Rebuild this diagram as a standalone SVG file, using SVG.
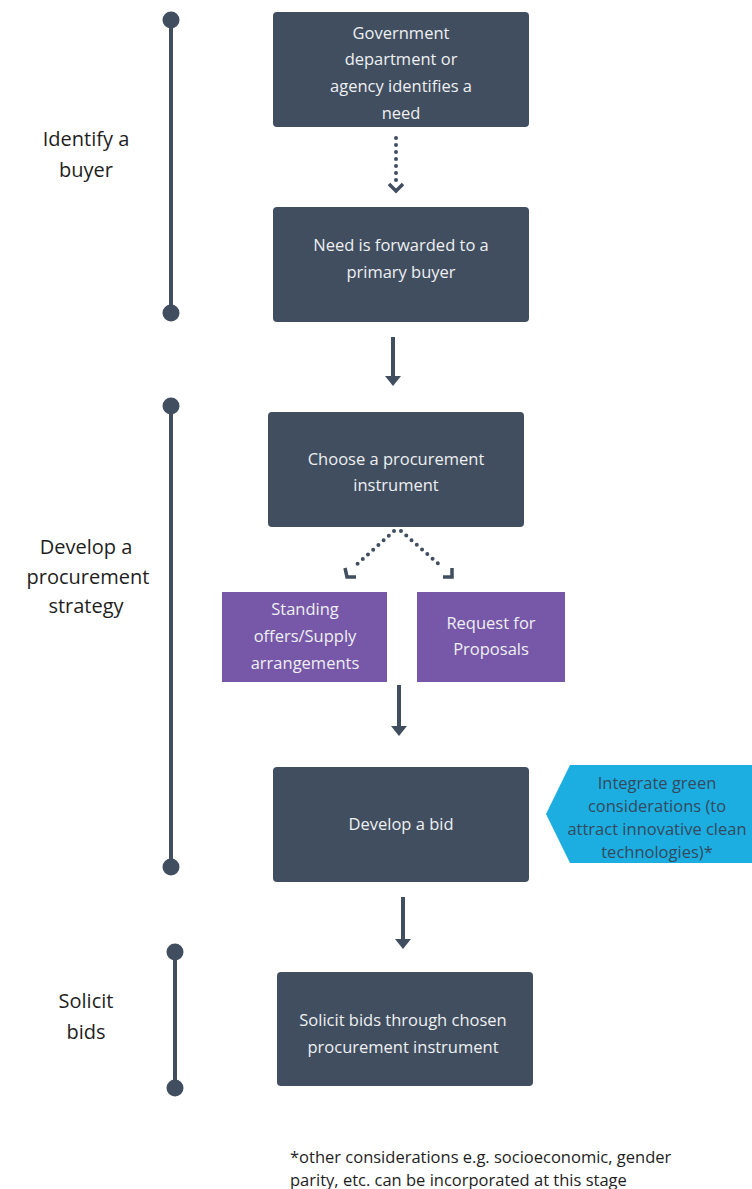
<svg xmlns="http://www.w3.org/2000/svg" width="752" height="1189" viewBox="0 0 752 1189">
<style>
.box{fill:#414e5f}
.pur{fill:#7757a8}
.t{font-family:"Open Sans",sans-serif;font-size:16.5px;fill:#eef0f2;text-anchor:middle}
.c{font-family:"Open Sans",sans-serif;font-size:16.5px;fill:#34495e;text-anchor:middle}
.lab{font-family:"Open Sans",sans-serif;font-size:20px;fill:#1e1e1e;text-anchor:middle}
.note{font-family:"Open Sans",sans-serif;font-size:16.5px;fill:#1e1e1e}
.tl{stroke:#414e5f;stroke-width:4}
.dot{fill:#414e5f}
.sol{stroke:#414e5f;stroke-width:4;fill:none}
.dash{stroke:#414e5f;stroke-width:4;fill:none;stroke-dasharray:0 7;stroke-linecap:round}
.chev{stroke:#414e5f;stroke-width:3.5;fill:none}
</style>
<defs>
<marker id="ah" markerWidth="4" markerHeight="4" refX="1" refY="2" orient="auto" markerUnits="strokeWidth"><path d="M0,0 L2.5,2 L0,4 Z" fill="#414e5f"/></marker>
</defs>
<rect width="752" height="1189" fill="#fff"/>
<g id="timeline">
<line class="tl" x1="171" y1="20" x2="171" y2="313"/><circle class="dot" cx="171" cy="20" r="8.5"/><circle class="dot" cx="171" cy="313" r="8.5"/>
<line class="tl" x1="171" y1="406" x2="171" y2="867"/><circle class="dot" cx="171" cy="406" r="8.5"/><circle class="dot" cx="171" cy="867" r="8.5"/>
<line class="tl" x1="175" y1="952" x2="175" y2="1088"/><circle class="dot" cx="175" cy="952" r="8.5"/><circle class="dot" cx="175" cy="1088" r="8.5"/>
</g>
<g id="labels">
<text class="lab" x="86" y="146">Identify a</text><text class="lab" x="86" y="177">buyer</text>
<text class="lab" x="86" y="554">Develop a</text><text class="lab" x="88" y="584">procurement</text><text class="lab" x="86" y="613">strategy</text>
<text class="lab" x="86" y="1008">Solicit</text><text class="lab" x="86" y="1039">bids</text>
</g>
<g id="connectors">
<line class="dash" x1="396" y1="138" x2="396" y2="182"/>
<path class="chev" d="M389,184 L396,191 L403,184"/>
<line class="sol" x1="393" y1="337" x2="393" y2="380" marker-end="url(#ah)"/>
<line class="dash" x1="394" y1="531" x2="354" y2="567"/>
<line class="dash" x1="401" y1="531" x2="442" y2="567"/>
<path class="chev" d="M345,568 L347,577 L356,577"/>
<path class="chev" d="M443,577 L452,577 L452,568"/>
<line class="sol" x1="399" y1="685" x2="399" y2="730" marker-end="url(#ah)"/>
<line class="sol" x1="403" y1="897" x2="403" y2="943" marker-end="url(#ah)"/>
</g>
<g id="n1"><rect class="box" x="273" y="12" width="256" height="115" rx="4"/>
<text class="t" x="401" y="39">Government</text><text class="t" x="401" y="65">department or</text><text class="t" x="401" y="92">agency identifies a</text><text class="t" x="401" y="119">need</text></g>
<g id="n2"><rect class="box" x="273" y="207" width="256" height="115" rx="4"/>
<text class="t" x="401" y="251">Need is forwarded to a</text><text class="t" x="401" y="278">primary buyer</text></g>
<g id="n3"><rect class="box" x="268" y="412" width="256" height="115" rx="4"/>
<text class="t" x="396" y="465">Choose a procurement</text><text class="t" x="396" y="491">instrument</text></g>
<g id="n4"><rect class="pur" x="222" y="592" width="165" height="90"/>
<text class="t" x="305" y="615">Standing</text><text class="t" x="305" y="642">offers/Supply</text><text class="t" x="305" y="669">arrangements</text></g>
<g id="n5"><rect class="pur" x="417" y="592" width="148" height="90"/>
<text class="t" x="491" y="629">Request for</text><text class="t" x="491" y="655">Proposals</text></g>
<g id="n6"><rect class="box" x="273" y="767" width="256" height="115" rx="4"/>
<text class="t" x="401" y="830">Develop a bid</text></g>
<g id="n7"><polygon points="546,814 570,765 752,765 752,863 570,863" fill="#1caee0"/>
<text class="c" x="657" y="789">Integrate green</text><text class="c" x="657" y="812">considerations (to</text><text class="c" x="657" y="835">attract innovative clean</text><text class="c" x="657" y="858">technologies)*</text></g>
<g id="n8"><rect class="box" x="277" y="972" width="256" height="114" rx="4"/>
<text class="t" x="403" y="1026">Solicit bids through chosen</text><text class="t" x="403" y="1053">procurement instrument</text></g>
<g id="note">
<text class="note" x="290" y="1163">*other considerations e.g. socioeconomic, gender</text>
<text class="note" x="290" y="1186">parity, etc. can be incorporated at this stage</text>
</g>
</svg>
